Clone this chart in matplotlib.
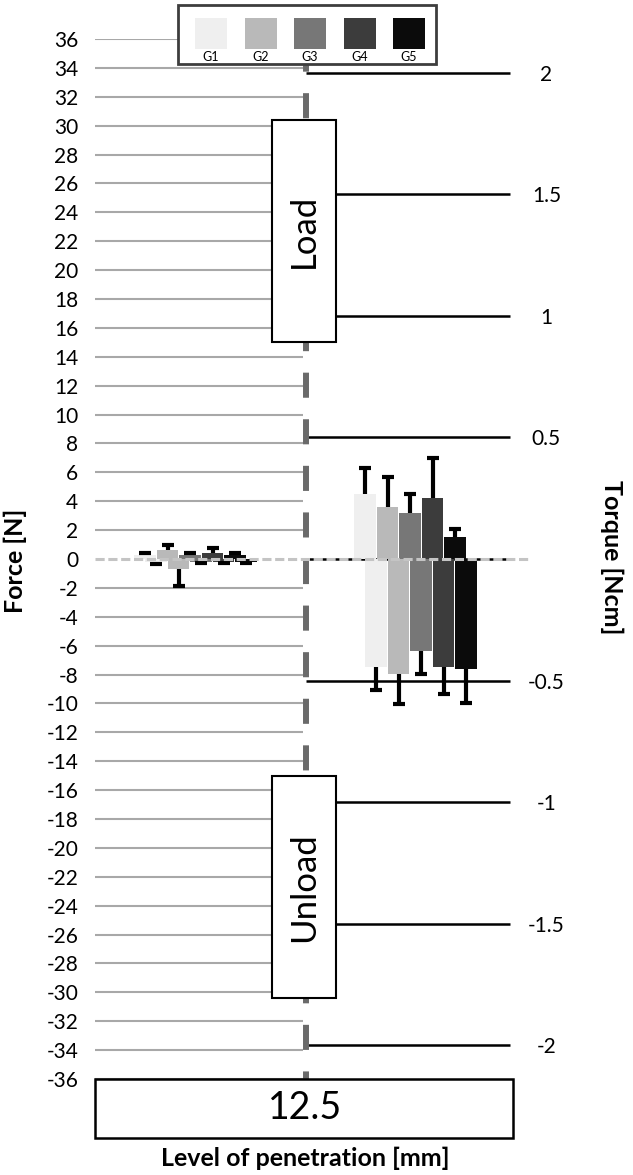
import matplotlib
matplotlib.use("Agg")
import matplotlib.pyplot as plt
from matplotlib.patches import Rectangle
import numpy as np

plt.rcParams['font.family'] = ['Lato', 'DejaVu Sans']

groups = ['G1', 'G2', 'G3', 'G4', 'G5']
colors = ['#efefef', '#b9b9b9', '#777777', '#3c3c3c', '#0b0b0b']

# force [N] - left cluster
force_up = [0.25, 0.62, 0.28, 0.42, 0.25]
force_up_err = [0.17, 0.35, 0.14, 0.34, 0.17]
force_down = [-0.20, -0.69, -0.20, -0.22, -0.22]
force_down_err = [0.15, 1.18, 0.08, 0.06, 0.06]

# torque [Ncm] - right cluster
torque_up = [0.269, 0.215, 0.188, 0.250, 0.092]
torque_up_err = [0.104, 0.123, 0.079, 0.165, 0.033]
torque_down = [-0.443, -0.475, -0.379, -0.443, -0.453]
torque_down_err = [0.096, 0.122, 0.095, 0.112, 0.141]

force_ticks = list(range(-36, 37, 2))
torque_ticks = [-2, -1.5, -1, -0.5, 0, 0.5, 1, 1.5, 2]
torque_labels = ['-2', '-1.5', '-1', '-0.5', '', '0.5', '1', '1.5', '2']
penetration = '12.5'

N_PER_NCM = 16.83  # how the two y scales line up
W, H = 633, 1175
L, R, T, B = 95, 513, 39, 1079
XMIN, XMAX = -0.459, 1.441

fig = plt.figure(figsize=(W / 100, H / 100), dpi=100)
ax = fig.add_axes([L / W, 1 - B / H, (R - L) / W, (B - T) / H])
ax.set_xlim(XMIN, XMAX)
ax.set_ylim(-36, 36)
ax2 = ax.twinx()
ax2.set_ylim(-36 / N_PER_NCM, 36 / N_PER_NCM)
ax2.set_autoscale_on(False)

for a in (ax, ax2):
    for s in a.spines.values():
        s.set_visible(False)
ax.set_xticks([])

ax.set_yticks(force_ticks)
ax.set_yticklabels([str(t) for t in force_ticks])
ax.tick_params(axis='y', length=0, pad=12, labelsize=15)
ax2.set_yticks(torque_ticks)
ax2.set_yticklabels(torque_labels)
ax2.tick_params(axis='y', length=0, pad=24, labelsize=15)
for lbl in ax2.get_yticklabels():
    lbl.set_horizontalalignment('center')

# grid lines: gray for force on the left, black for torque on the right
ax.hlines([t for t in force_ticks if t != 0], XMIN, 0.486, color='#a8a8a8', lw=1.5, zorder=1)
ax2.hlines(torque_ticks, 0.5, 1.427, color='black', lw=1.8, zorder=1)

# dashed divider
ax2.plot([0.5, 0.5], [0, -36], transform=ax.transData, color='#6a6a6a', lw=4.3,
         ls=(0, (4.2, 3.6)), zorder=2)
ax2.plot([0.5, 0.5], [0, 36], transform=ax.transData, color='#6a6a6a', lw=4.3,
         ls=(4.2, (4.2, 3.6)), zorder=2)

# Load / Unload boxes
for y0, txt in [(15, 'Load'), (-30.4, 'Unload')]:
    ax2.add_patch(Rectangle((0.3455, y0), 0.29, 15.4, transform=ax.transData,
                            fc='white', ec='black', lw=1.5, zorder=4))
    ax2.text(0.4905, y0 + 7.7, txt, transform=ax.transData, rotation=90,
             ha='center', va='center', fontsize=25, zorder=5)

# bars
step, width = 0.1023, 0.098
idx = np.arange(len(groups)) - 2
x_up = idx * step - 0.027
x_down = idx * step + 0.023


def draw_cluster(axis, center, up, up_err, down, down_err):
    up, up_err = np.array(up), np.array(up_err)
    down, down_err = np.array(down), np.array(down_err)
    zeros = np.zeros(len(up))
    axis.bar(center + x_up, up, width, color=colors, zorder=6)
    axis.bar(center + x_down, down, width, color=colors, zorder=6)
    axis.errorbar(center + x_up, up, yerr=[zeros, up_err], fmt='none', ecolor='black',
                  elinewidth=3, capsize=0, zorder=7)
    axis.errorbar(center + x_down, down, yerr=[down_err, zeros], fmt='none', ecolor='black',
                  elinewidth=3, capsize=0, zorder=7)
    axis.plot(center + x_up, up + up_err, ls='none', marker='_', ms=8, mew=3,
              color='black', zorder=7)
    axis.plot(center + x_down, down - down_err, ls='none', marker='_', ms=8, mew=3,
              color='black', zorder=7)


draw_cluster(ax, 0, force_up, force_up_err, force_down, force_down_err)
draw_cluster(ax2, 1, torque_up, torque_up_err, torque_down, torque_down_err)

# gray dashed zero line over everything
ax2.plot([XMIN, 1.518], [0, 0], color='#c4c4c4', lw=2.2, ls=(0, (3, 1.2)),
         clip_on=False, zorder=10)

# bottom box and axis titles
fig.add_artist(Rectangle((L / W, 1 - 1138 / H), (R - L) / W, 59 / H, transform=fig.transFigure,
                         fc='white', ec='black', lw=1.8))
fig.text(305 / W, 1 - 1108 / H, penetration, ha='center', va='center', fontsize=27)
fig.text(305 / W, 1 - 1158 / H, 'Level of penetration [mm]', ha='center', va='center',
         fontsize=18, fontweight='bold')
fig.text(15 / W, 1 - 561 / H, 'Force [N]', rotation=90, ha='center', va='center',
         fontsize=18, fontweight='bold')
fig.text(612 / W, 1 - 557 / H, 'Torque [Ncm]', rotation=270, ha='center', va='center',
         fontsize=18, fontweight='bold')

# legend box with labels under swatches
fig.add_artist(Rectangle((178 / W, 1 - 64 / H), 258 / W, 59 / H, transform=fig.transFigure,
                         fc='white', ec='#3d3d3d', lw=2, zorder=20))
for i, (g, c) in enumerate(zip(groups, colors)):
    x0 = 195 + i * 49.5
    fig.add_artist(Rectangle((x0 / W, 1 - 49 / H), 32 / W, 31 / H, transform=fig.transFigure,
                             fc=c, ec='none', zorder=21))
    fig.text((x0 + 16) / W, 1 - 57 / H, g, ha='center', va='center', fontsize=9, zorder=22)

fig.savefig('out.png', dpi=100)
